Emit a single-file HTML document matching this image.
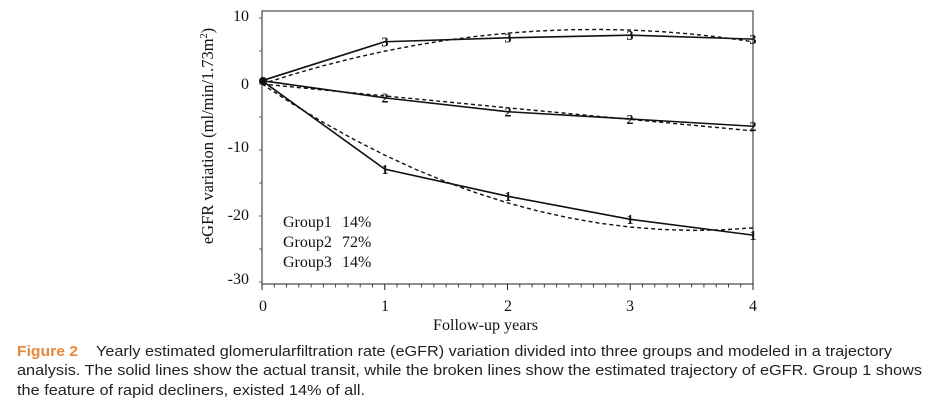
<!DOCTYPE html>
<html><head><meta charset="utf-8"><style>
html,body{margin:0;padding:0;background:#fff;}
svg{display:block;}
</style></head><body>
<svg width="937" height="406" viewBox="0 0 937 406" xmlns="http://www.w3.org/2000/svg">
<rect width="937" height="406" fill="#fff"/>
<!-- plot box -->
<rect x="262" y="11" width="491" height="273" fill="none" stroke="#555" stroke-width="1.3"/>
<!-- x ticks -->
<g stroke="#222" stroke-width="1">
<line x1="262" y1="284" x2="262" y2="290"/><line x1="384.75" y1="284" x2="384.75" y2="290"/><line x1="507.5" y1="284" x2="507.5" y2="290"/><line x1="630.25" y1="284" x2="630.25" y2="290"/><line x1="753" y1="284" x2="753" y2="290"/>
</g>
<g stroke="#333" stroke-width="0.9">
<line x1="274.3" y1="284" x2="274.3" y2="287.5"/><line x1="286.5" y1="284" x2="286.5" y2="287.5"/><line x1="298.8" y1="284" x2="298.8" y2="287.5"/><line x1="311.1" y1="284" x2="311.1" y2="287.5"/><line x1="323.4" y1="284" x2="323.4" y2="287.5"/><line x1="335.6" y1="284" x2="335.6" y2="287.5"/><line x1="347.9" y1="284" x2="347.9" y2="287.5"/><line x1="360.2" y1="284" x2="360.2" y2="287.5"/><line x1="372.5" y1="284" x2="372.5" y2="287.5"/>
<line x1="397.0" y1="284" x2="397.0" y2="287.5"/><line x1="409.3" y1="284" x2="409.3" y2="287.5"/><line x1="421.6" y1="284" x2="421.6" y2="287.5"/><line x1="433.9" y1="284" x2="433.9" y2="287.5"/><line x1="446.1" y1="284" x2="446.1" y2="287.5"/><line x1="458.4" y1="284" x2="458.4" y2="287.5"/><line x1="470.7" y1="284" x2="470.7" y2="287.5"/><line x1="483.0" y1="284" x2="483.0" y2="287.5"/><line x1="495.2" y1="284" x2="495.2" y2="287.5"/>
<line x1="519.8" y1="284" x2="519.8" y2="287.5"/><line x1="532.1" y1="284" x2="532.1" y2="287.5"/><line x1="544.3" y1="284" x2="544.3" y2="287.5"/><line x1="556.6" y1="284" x2="556.6" y2="287.5"/><line x1="568.9" y1="284" x2="568.9" y2="287.5"/><line x1="581.2" y1="284" x2="581.2" y2="287.5"/><line x1="593.4" y1="284" x2="593.4" y2="287.5"/><line x1="605.7" y1="284" x2="605.7" y2="287.5"/><line x1="618.0" y1="284" x2="618.0" y2="287.5"/>
<line x1="642.5" y1="284" x2="642.5" y2="287.5"/><line x1="654.8" y1="284" x2="654.8" y2="287.5"/><line x1="667.1" y1="284" x2="667.1" y2="287.5"/><line x1="679.4" y1="284" x2="679.4" y2="287.5"/><line x1="691.6" y1="284" x2="691.6" y2="287.5"/><line x1="703.9" y1="284" x2="703.9" y2="287.5"/><line x1="716.2" y1="284" x2="716.2" y2="287.5"/><line x1="728.5" y1="284" x2="728.5" y2="287.5"/><line x1="740.7" y1="284" x2="740.7" y2="287.5"/>
</g>
<!-- y minor ticks -->
<g stroke="#444" stroke-width="0.8">
<line x1="259" y1="18" x2="262" y2="18"/><line x1="259" y1="51" x2="262" y2="51"/><line x1="259" y1="84" x2="262" y2="84"/><line x1="259" y1="117" x2="262" y2="117"/><line x1="259" y1="150" x2="262" y2="150"/><line x1="259" y1="183" x2="262" y2="183"/><line x1="259" y1="216" x2="262" y2="216"/><line x1="259" y1="249" x2="262" y2="249"/><line x1="259" y1="282" x2="262" y2="282"/>
</g>
<!-- tick labels -->
<g font-family="Liberation Serif, serif" font-size="16" fill="#111">
<text x="249" y="21" text-anchor="end">10</text>
<text x="249" y="89" text-anchor="end">0</text>
<text x="249" y="152" text-anchor="end">-10</text>
<text x="249" y="220" text-anchor="end">-20</text>
<text x="249" y="284" text-anchor="end">-30</text>
<text x="263" y="311" text-anchor="middle">0</text>
<text x="385" y="311" text-anchor="middle">1</text>
<text x="508" y="311" text-anchor="middle">2</text>
<text x="630" y="311" text-anchor="middle">3</text>
<text x="753" y="311" text-anchor="middle">4</text>
</g>
<text x="433" y="330" font-family="Liberation Serif, serif" font-size="16" fill="#111" textLength="105" lengthAdjust="spacingAndGlyphs">Follow-up years</text>
<text transform="translate(213,136) rotate(-90)" text-anchor="middle" font-family="Liberation Serif, serif" font-size="16.5" fill="#111">eGFR variation (ml/min/1.73m<tspan font-size="10" dy="-6">2</tspan><tspan dy="6">)</tspan></text>
<!-- legend -->
<g font-family="Liberation Serif, serif" font-size="16" fill="#111">
<text x="283" y="227">Group1<tspan x="342">14%</tspan></text>
<text x="283" y="247">Group2<tspan x="342">72%</tspan></text>
<text x="283" y="267">Group3<tspan x="342">14%</tspan></text>
</g>
<!-- dashed estimated -->
<g fill="none" stroke="#111" stroke-width="1.4" stroke-dasharray="4,3">
<polyline points="262,84 292.69,74.40 323.38,65.72 354.06,57.98 384.75,51.17 415.44,45.28 446.13,40.31 476.81,36.28 507.5,33.18 538.19,31.0 568.88,29.75 599.56,29.44 630.25,30.05 660.94,31.58 691.63,34.04 722.31,37.44 753,41.76"/>
<polyline points="262,84 384.75,95.96 507.5,107.76 630.25,119.38 753,130.86"/>
<polyline points="262,84 292.69,103.98 323.38,122.48 354.06,139.53 384.75,155.12 415.44,169.23 446.13,181.88 476.81,193.08 507.5,202.8 538.19,211.06 568.88,217.85 599.56,223.19 630.25,227.06 660.94,229.46 691.63,230.39 722.31,229.87 753,227.88"/>
</g>
<!-- solid actual -->
<g fill="none" stroke="#111" stroke-width="1.6">
<polyline points="262,80.7 384.75,41.76 507.5,37.8 630.25,35.16 753,39.12"/>
<polyline points="262,80.7 384.75,97.86 507.5,111.72 630.25,118.98 753,126.24"/>
<polyline points="262,80.7 384.75,169.14 507.5,196.2 630.25,219.3 753,235.14"/>
</g>
<circle cx="263" cy="81" r="4" fill="#111"/>
<!-- markers -->
<g font-family="Liberation Serif, serif" font-size="14" font-weight="bold" fill="#111" text-anchor="middle">
<text x="385" y="46.5">3</text><text x="508" y="42.5">3</text><text x="630" y="40">3</text><text x="753" y="44">3</text>
<text x="385" y="102.5">2</text><text x="508" y="116.5">2</text><text x="630" y="124">2</text><text x="753" y="131">2</text>
<text x="385" y="174">1</text><text x="508" y="201">1</text><text x="630" y="224">1</text><text x="753" y="240">1</text>
</g>
<!-- caption -->
<g font-family="Liberation Sans, Arial, sans-serif" font-size="15" fill="#231f20">
<text x="17" y="356" font-weight="bold" fill="#e8883a" textLength="61" lengthAdjust="spacingAndGlyphs">Figure 2</text>
<text x="96" y="356" textLength="796" lengthAdjust="spacingAndGlyphs">Yearly estimated glomerularfiltration rate (eGFR) variation divided into three groups and modeled in a trajectory</text>
<text x="17" y="375" textLength="905" lengthAdjust="spacingAndGlyphs">analysis. The solid lines show the actual transit, while the broken lines show the estimated trajectory of eGFR. Group 1 shows</text>
<text x="17" y="395" textLength="348" lengthAdjust="spacingAndGlyphs">the feature of rapid decliners, existed 14% of all.</text>
</g>
</svg>
</body></html>
